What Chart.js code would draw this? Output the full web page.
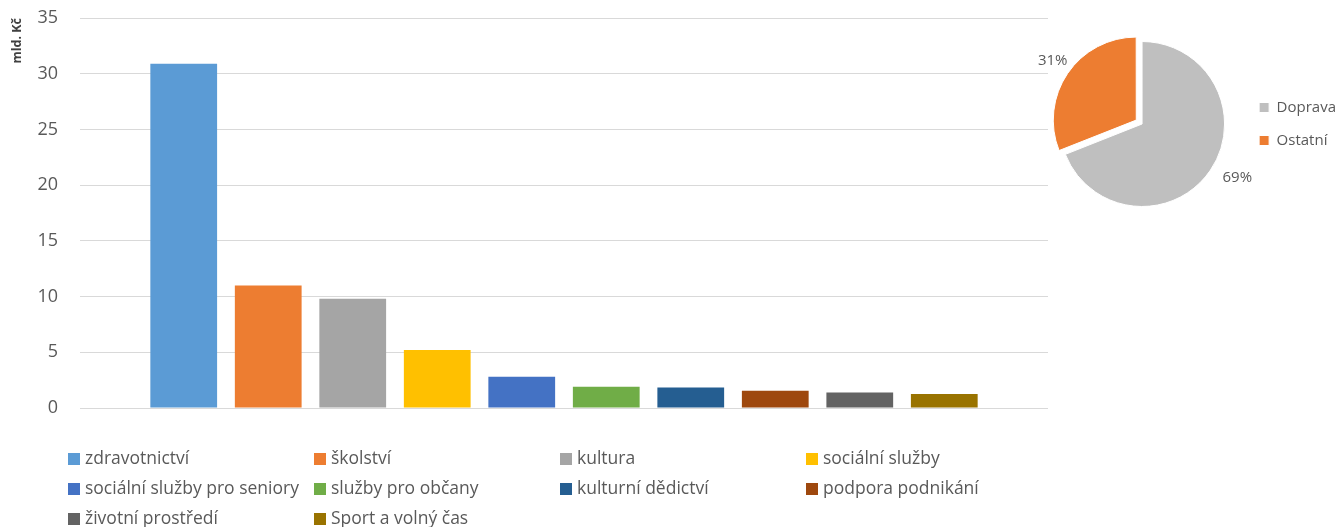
<!DOCTYPE html>
<html>

<head>
    <meta charset="utf-8">
    <title>Výdaje</title>
    <style>
        body { margin: 0; background: #fff; overflow: hidden; }
        #wrap { position: relative; width: 1340px; height: 527px; overflow: hidden; }
        #barChart { position: absolute; left: 0; top: 0; }
        #pieBox { position: absolute; left: 1020px; top: 26px; width: 326px; height: 200px; }
    </style>
</head>

<body>
    <div id="wrap">
        <canvas id="barChart" width="1340" height="527"></canvas>
        <div id="pieBox"><canvas id="pieChart" width="326" height="200"></canvas></div>
    </div>

    <script src="https://cdn.jsdelivr.net/npm/chart.js"></script>

    <script>
        // data
        const categories = ['zdravotnictví', 'školství', 'kultura', 'sociální služby',
            'sociální služby pro seniory', 'služby pro občany', 'kulturní dědictví',
            'podpora podnikání', 'životní prostředí', 'Sport a volný čas'];
        const values = [30.9, 11.0, 9.8, 5.2, 2.8, 1.9, 1.85, 1.55, 1.4, 1.25];
        const barColors = ['#5B9BD5', '#ED7D31', '#A5A5A5', '#FFC000', '#4472C4',
            '#70AD47', '#255E91', '#9E480E', '#636363', '#997300'];
        const yTicks = [0, 5, 10, 15, 20, 25, 30, 35];

        const pieLabels = ['Doprava', 'Ostatní'];
        const pieValues = [69, 31];
        const pieColors = ['#BFBFBF', '#ED7D31'];

        const TEXT = '#595959';
        const FONT = "'Open Sans', 'DejaVu Sans', sans-serif";

        // legend in a 4 column grid under the bars
        const gridLegend = {
            id: 'gridLegend',
            afterDraw(chart, args, opts) {
                const ctx = chart.ctx;
                ctx.save();
                ctx.font = opts.fontSize + 'px ' + FONT;
                ctx.textBaseline = 'middle';
                ctx.textAlign = 'left';
                chart.data.datasets.forEach((ds, i) => {
                    const col = i % opts.cols;
                    const row = Math.floor(i / opts.cols);
                    const x = opts.x + col * opts.colWidth;
                    const y = opts.y + row * opts.rowHeight;
                    ctx.fillStyle = ds.backgroundColor;
                    ctx.fillRect(x, y - opts.box / 2, opts.box, opts.box);
                    ctx.fillStyle = TEXT;
                    ctx.fillText(ds.label, x + opts.box + 5, y);
                });
                ctx.restore();
            }
        };

        const datasets = [];
        for (let i = 0; i < categories.length; i++) {
            datasets.push({
                label: categories[i],
                data: [values[i]],
                backgroundColor: barColors[i],
                categoryPercentage: 0.873,
                barPercentage: 0.79
            });
        }

        new Chart(document.getElementById('barChart'), {
            type: 'bar',
            data: { labels: [''], datasets: datasets },
            plugins: [gridLegend],
            options: {
                responsive: false,
                animation: false,
                layout: { padding: { left: 0, right: 292, top: 18, bottom: 111 } },
                plugins: {
                    legend: { display: false },
                    tooltip: { enabled: false },
                    gridLegend: { x: 68, y: 459, cols: 4, colWidth: 246, rowHeight: 30, box: 12, fontSize: 17.5 }
                },
                scales: {
                    x: {
                        grid: { display: false },
                        border: { display: false },
                        ticks: { display: false }
                    },
                    y: {
                        min: yTicks[0],
                        max: yTicks[yTicks.length - 1],
                        afterBuildTicks: (axis) => { axis.ticks = yTicks.map(v => ({ value: v })); },
                        afterFit: (axis) => { axis.width = 80; axis.paddingTop = 10; },
                        grid: { color: '#D9D9D9', drawTicks: false },
                        border: { display: false },
                        ticks: { color: TEXT, padding: 22, font: { family: FONT, size: 18 } },
                        title: {
                            display: true,
                            text: 'mld. Kč',
                            align: 'end',
                            color: '#404040',
                            padding: { top: 10, bottom: 0 },
                            font: { family: FONT, size: 12.5, weight: 'bold' }
                        }
                    }
                }
            }
        });

        // percentage labels outside the pie slices
        const outsideLabels = {
            id: 'outsideLabels',
            afterDraw(chart, args, opts) {
                const ctx = chart.ctx;
                const meta = chart.getDatasetMeta(0);
                const total = pieValues.reduce((a, b) => a + b, 0);
                ctx.save();
                ctx.font = '15px ' + FONT;
                ctx.fillStyle = TEXT;
                ctx.textAlign = 'center';
                ctx.textBaseline = 'middle';
                meta.data.forEach((arc, i) => {
                    const mid = (arc.startAngle + arc.endAngle) / 2 + opts.turn[i];
                    const r = arc.outerRadius + 27;
                    const x = arc.x + Math.cos(mid) * r;
                    const y = arc.y + Math.sin(mid) * r;
                    ctx.fillText(Math.round(pieValues[i] / total * 100) + '%', x, y);
                });
                ctx.restore();
            }
        };

        new Chart(document.getElementById('pieChart'), {
            type: 'pie',
            data: {
                labels: pieLabels,
                datasets: [{
                    data: pieValues,
                    backgroundColor: pieColors,
                    borderColor: '#ffffff',
                    borderWidth: 1,
                    offset: (c) => c.dataIndex === 1 ? 28 : 0
                }]
            },
            plugins: [outsideLabels],
            options: {
                responsive: false,
                animation: false,
                layout: { padding: { left: 23, top: 1, bottom: 5 } },
                plugins: {
                    tooltip: { enabled: false },
                    outsideLabels: { turn: [-0.08, 0.02] },
                    legend: {
                        position: 'right',
                        labels: {
                            color: TEXT,
                            boxWidth: 10,
                            boxHeight: 10,
                            padding: 18,
                            font: { family: FONT, size: 15 }
                        }
                    }
                }
            }
        });
    </script>

</body>

</html>
